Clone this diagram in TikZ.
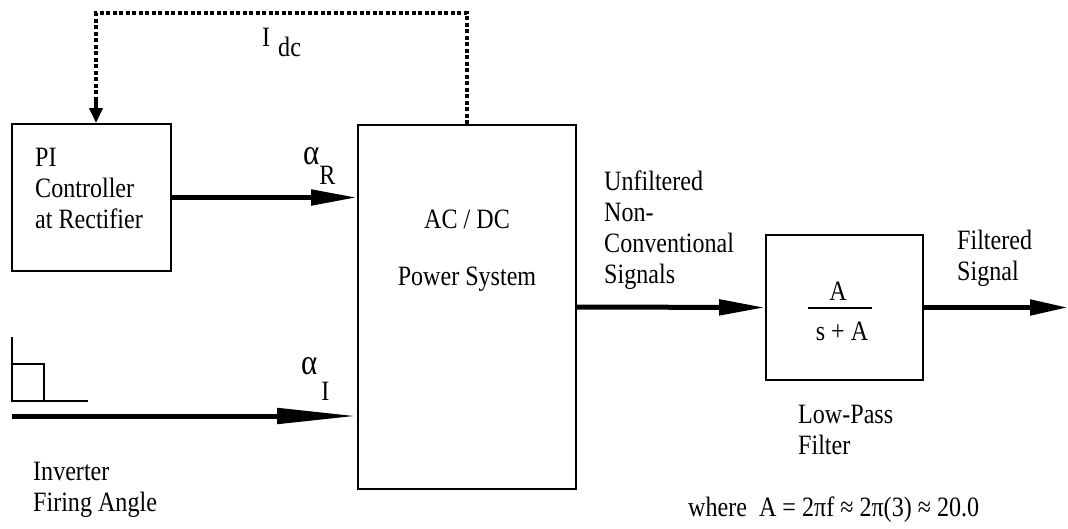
\documentclass[tikz,border=0pt]{standalone}
\usepackage{fontspec}
\setmainfont{Liberation Serif}[FakeStretch=0.86]
\usetikzlibrary{arrows.meta}
\newcommand{\bigalpha}{{\fontsize{36}{31}\selectfont α}}
\begin{document}
\begin{tikzpicture}[x=1pt,y=-1pt,
  box/.style={draw, line width=1.8pt, inner sep=0pt},
  lbl/.style={inner sep=0pt, font=\fontsize{28}{31}\selectfont, align=left},
  sig/.style={line width=5pt, -{Triangle[length=46pt,width=15pt]}},
  fb/.style={line width=4pt, dash pattern=on 4pt off 2.5pt},
  thin/.style={line width=1.3pt}]
\useasboundingbox (0,0) rectangle (1068,528);
% blocks
\node[box, minimum width=159pt, minimum height=147pt] (pi) at (91.5,197.5) {};
\node[box, minimum width=218pt, minimum height=364pt] (acdc) at (467,307) {};
\node[box, minimum width=157pt, minimum height=145pt] (lpf) at (844.5,307.5) {};
% texts
\node[lbl, anchor=north west] (pitext) at (35,148) {PI\\Controller\\at Rectifier};
\node[lbl, anchor=north, align=center] (acdctext) at (467,210) {AC / DC\\[26pt]Power System};
\node[lbl, anchor=north west] (unftext) at (604,171) {Unfiltered\\Non-\\Conventional\\Signals};
\node[lbl, anchor=north west] (filttext) at (957,230) {Filtered\\Signal};
\node[lbl, anchor=north west] (lptext) at (798,405) {Low-Pass\\Filter};
\node[lbl, anchor=north west] (invtext) at (33,462) {Inverter\\Firing Angle};
\node[lbl, anchor=base west] (where) at (688,516) {where~~A = 2πf ≈ 2π(3) ≈ 20.0};
% fraction
\node[lbl, anchor=base] (num) at (838,300) {A};
\node[lbl, anchor=base] (den) at (842,340) {s + A};
\draw[thin] (808,308) -- (872,308);
% signal labels
\node[lbl, anchor=base west] (idc) at (262,46) {I\hspace{8pt}\raisebox{-10pt}{dc}};
\node[lbl, anchor=base west] (alphaR) at (303,164) {\bigalpha\hspace{0pt}\raisebox{-20pt}{R}};
\node[lbl, anchor=base west] (alphaI) at (301,374) {\bigalpha\hspace{4pt}\raisebox{-26pt}{I}};
% connectors
\draw[sig] (pi.east) -- (pi.east -| acdc.west);
\coordinate (inl) at (12,416);
\draw[sig, -{Triangle[length=80pt,width=15pt]}] (inl) -- (inl -| acdc.west);
\draw[sig] (acdc.east) -- (lpf.west);
\coordinate (out) at (1068,307.5);
\draw[sig, -{Triangle[length=38pt,width=15pt]}] (lpf.east) -- (out);
% feedback
\coordinate (fbturn) at (96,98);
\draw[fb] (acdc.north) -- ++(0,-111) -| (fbturn);
\draw[line width=4pt, -{Triangle[length=15pt,width=13pt]}] (fbturn) -- (fbturn |- pi.north);
% step symbol
\draw[thin] (12,337) -- (12,401) -- (88,401);
\draw[thin] (12,364) -- (44,364) -- (44,401);
\end{tikzpicture}
\end{document}
